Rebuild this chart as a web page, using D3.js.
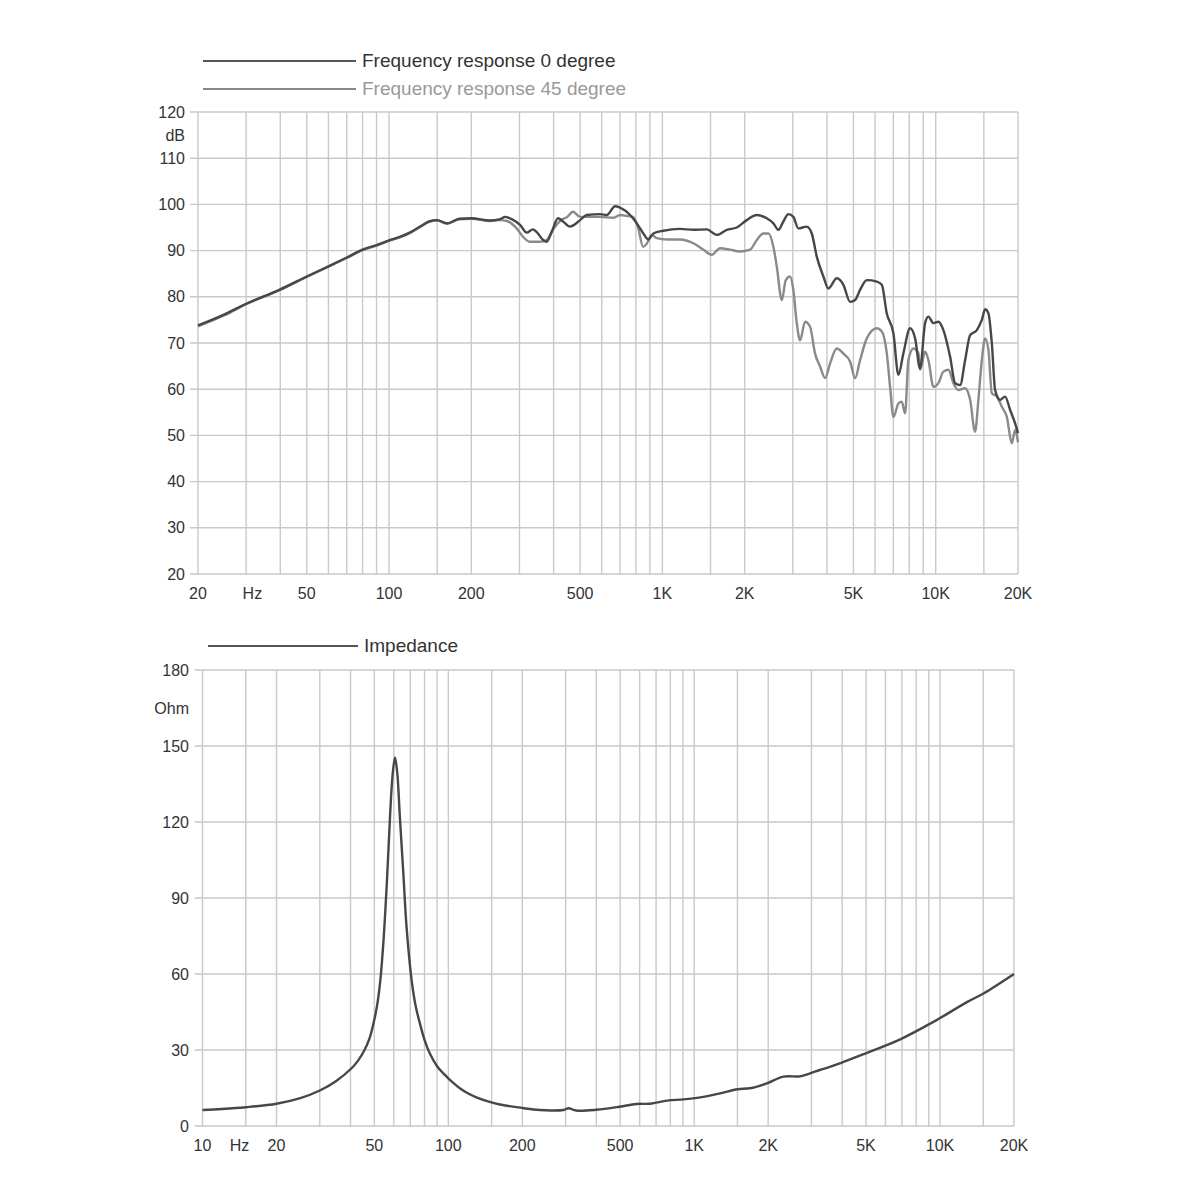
<!DOCTYPE html>
<html>
<head>
<meta charset="utf-8">
<script src="https://cdn.jsdelivr.net/npm/d3@7"></script>
<style>
  html, body { margin: 0; padding: 0; background: #fff; }
  svg { display: block; font-family: "Liberation Sans", Arial, Helvetica, sans-serif; }
</style>
</head>
<body>
<svg id="chart" width="1200" height="1200"></svg>
<script>
// ---------- DATA ----------
const fr0Freq = [20,25,30,40,50,60,70,80,90,100,110,120,130,140,150,163,181,200,234,255,266,281,302,319,336,347,366,377,394,415,433,459,500,529,592,626,671,700,762,806,852,889,927,1008,1160,1298,1453,1581,1720,1871,2036,2215,2409,2548,2657,2771,2890,3014,3144,3374,3520,3671,3882,4049,4345,4594,4861,5070,5288,5596,6087,6350,6622,7002,7304,7618,8058,8406,8767,9144,9402,9808,10229,10668,11290,11776,12282,12812,13362,14138,14748,15164,15592,16044,16496,17206,17946,18718,19520,20000];
const fr0Db = [73.8,76.2,78.5,81.6,84.4,86.6,88.5,90.2,91.2,92.2,93.0,94.0,95.2,96.3,96.6,95.9,96.9,97.0,96.5,96.8,97.3,96.8,95.5,93.9,94.6,94.0,92.3,91.9,94.1,97.0,96.3,95.2,96.6,97.7,97.9,97.7,99.6,99.3,97.7,95.9,93.7,92.4,93.7,94.3,94.7,94.5,94.6,93.4,94.5,95.0,96.6,97.7,97.0,95.9,94.5,96.3,97.9,97.3,94.8,95.2,93.7,88.7,84.4,81.8,84.0,82.6,78.9,79.3,81.5,83.6,83.3,82.6,76.4,72.1,63.1,67.8,73.2,71.0,64.5,74.3,75.7,74.3,74.6,72.8,67.0,61.3,60.9,66.3,71.7,72.8,75.0,77.3,76.4,69.9,59.8,57.7,58.4,55.5,52.6,50.5];

const fr45Freq = [20,25,30,40,50,60,70,80,90,100,110,120,130,140,150,163,181,200,234,255,270,293,309,328,357,377,398,428,447,471,500,592,660,700,741,781,815,850,876,914,954,1038,1160,1298,1413,1516,1626,1769,1923,2093,2215,2342,2443,2548,2622,2734,2828,2932,3014,3102,3190,3327,3470,3619,3774,3939,4108,4345,4594,4861,5070,5288,5596,6087,6350,6622,6808,7002,7304,7512,7727,7943,8286,8642,8767,9144,9402,9808,10229,10668,11128,11606,12107,12812,13362,13932,14326,14748,15164,15592,16044,16733,17452,18204,18988,19520,20000];
const fr45Db = [73.6,76.0,78.4,81.5,84.3,86.5,88.4,90.1,91.1,92.1,92.9,93.9,95.1,96.2,96.5,95.8,96.8,96.9,96.4,96.6,96.4,94.8,93.0,91.9,91.9,92.3,94.6,96.7,97.2,98.4,97.3,97.3,97.1,97.7,97.5,97.3,95.0,90.8,91.5,93.4,92.7,92.4,92.4,91.6,90.2,89.1,90.5,90.2,89.8,90.2,92.3,93.7,93.7,90.8,86.5,79.3,83.6,84.4,81.5,74.3,70.6,74.6,73.5,67.7,64.9,62.4,65.6,68.8,67.7,66.0,62.4,66.3,71.0,73.2,72.5,67.8,60.5,54.0,56.9,57.3,54.8,66.3,68.8,67.8,64.2,68.1,66.3,60.5,61.3,63.8,64.2,61.3,59.8,60.2,57.7,50.8,57.7,66.3,71.0,68.5,59.1,58.4,56.2,54.0,48.3,51.2,48.5];

const impFreq = [10,12,15,20,25,30,35,40.5,43,45.5,47.8,49.6,51.3,52.9,54.5,56.3,58,59.4,60.7,62,63.5,65.6,67.6,70.9,73.5,76.6,80,84,90,98.8,105,111,120,130,145,162,200,222,294,308,331,400,497,582,661,777,906,1059,1276,1502,1688,1975,2307,2697,2960,3240,3660,4990,6890,9440,12980,15090,20000];
const impOhm = [6.3,6.7,7.4,8.8,11.0,14.0,17.8,22.9,25.9,29.8,34.6,40.5,47.5,57.6,73.4,97.1,123.4,139.2,145.5,139.2,122.1,99.8,78.7,57.6,47.8,40.5,34.0,28.7,23.6,19.3,16.9,15.0,12.9,11.3,9.7,8.5,7.1,6.5,6.3,7.0,6.1,6.4,7.6,8.7,8.8,10.0,10.5,11.3,12.9,14.5,14.9,16.8,19.5,19.6,20.8,22.1,23.7,28.7,34.2,41.2,49.1,52.4,60.0];

const topGridFreq = [20,30,40,50,60,70,80,90,100,150,200,300,400,500,600,700,800,900,1000,1500,2000,3000,4000,5000,6000,7000,8000,9000,10000,15000,20000];
const topTickFreq = [20,50,100,200,500,1000,2000,5000,10000,20000];
const topTickLabels = ["20","50","100","200","500","1K","2K","5K","10K","20K"];
const topDbTicks = [20,30,40,50,60,70,80,90,100,110,120];

const botGridFreq = [10,15,20,30,40,50,60,70,80,90,100,150,200,300,400,500,600,700,800,900,1000,1500,2000,3000,4000,5000,6000,7000,8000,9000,10000,15000,20000];
const botTickFreq = [10,20,50,100,200,500,1000,2000,5000,10000,20000];
const botTickLabels = ["10","20","50","100","200","500","1K","2K","5K","10K","20K"];
const botOhmTicks = [0,30,60,90,120,150,180];

const legendTop = ["Frequency response 0 degree","Frequency response 45 degree"];
const legendBot = ["Impedance"];

// ---------- STYLE ----------
const gridColor = "#c9c9c9";
const textColor = "#333";
const c0 = "#474747";
const c45 = "#8a8a8a";
const fs = 16;

const svg = d3.select("#chart");

function panel(cfg) {
  const g = svg.append("g");
  const x = d3.scaleLog().domain(cfg.xDomain).range(cfg.xRange);
  const y = d3.scaleLinear().domain(cfg.yDomain).range(cfg.yRange);
  g.selectAll("line.vg").data(cfg.gridFreq).enter().append("line")
    .attr("x1", d => x(d)).attr("x2", d => x(d))
    .attr("y1", cfg.yRange[0]).attr("y2", cfg.yRange[1])
    .attr("stroke", gridColor).attr("stroke-width", 1.4);
  g.selectAll("line.hg").data(cfg.yTicks).enter().append("line")
    .attr("x1", cfg.xRange[0] - 8).attr("x2", cfg.xRange[1])
    .attr("y1", d => y(d)).attr("y2", d => y(d))
    .attr("stroke", gridColor).attr("stroke-width", 1.4);
  g.selectAll("text.yl").data(cfg.yTicks).enter().append("text")
    .attr("x", cfg.yLabelX).attr("y", d => y(d)).attr("dy", "0.35em")
    .attr("text-anchor", "end").attr("font-size", fs).attr("fill", textColor)
    .text(d => d);
  g.append("text").attr("x", cfg.yLabelX).attr("y", y(cfg.unitAt)).attr("dy", "0.35em")
    .attr("text-anchor", "end").attr("font-size", fs).attr("fill", textColor).text(cfg.unit);
  g.selectAll("text.xl").data(cfg.tickFreq).enter().append("text")
    .attr("x", d => x(d)).attr("y", cfg.yRange[0] + 19).attr("dy", "0.35em")
    .attr("text-anchor", "middle").attr("font-size", fs).attr("fill", textColor)
    .text((d, i) => cfg.tickLabels[i]);
  g.append("text").attr("x", x(Math.sqrt(cfg.tickFreq[0] * cfg.tickFreq[1])))
    .attr("y", cfg.yRange[0] + 19).attr("dy", "0.35em")
    .attr("text-anchor", "middle").attr("font-size", fs).attr("fill", textColor).text("Hz");
  cfg.series.forEach(s => {
    const pts = s.f.map((f, i) => [f, s.v[i]]);
    const line = d3.line().x(d => x(d[0])).y(d => y(d[1])).curve(s.curve || d3.curveMonotoneX);
    g.append("path").attr("d", line(pts)).attr("fill", "none")
      .attr("stroke", s.color).attr("stroke-width", 2.4).attr("stroke-linejoin", "round");
  });
  cfg.legend.forEach((L, i) => {
    const ly = cfg.legendY + i * 28;
    g.append("line").attr("x1", cfg.legendX1).attr("x2", cfg.legendX2)
      .attr("y1", ly).attr("y2", ly).attr("stroke", L.color).attr("stroke-width", 2);
    g.append("text").attr("x", cfg.legendX2 + 6).attr("y", ly - 1).attr("dy", "0.35em")
      .attr("font-size", 19).attr("fill", L.textColor).text(L.text);
  });
}

panel({
  xDomain: [20, 20000], xRange: [198, 1018],
  yDomain: [20, 120], yRange: [574, 112],
  gridFreq: topGridFreq, yTicks: topDbTicks, yLabelX: 185,
  unit: "dB", unitAt: 115,
  tickFreq: topTickFreq, tickLabels: topTickLabels,
  series: [
    { f: fr45Freq, v: fr45Db, color: c45 },
    { f: fr0Freq, v: fr0Db, color: c0 }
  ],
  legend: [
    { text: legendTop[0], color: "#555", textColor: "#333" },
    { text: legendTop[1], color: "#888", textColor: "#999" }
  ],
  legendY: 61, legendX1: 203, legendX2: 356
});

panel({
  xDomain: [10, 20000], xRange: [202.5, 1014],
  yDomain: [0, 180], yRange: [1126, 670],
  gridFreq: botGridFreq, yTicks: botOhmTicks, yLabelX: 189,
  unit: "Ohm", unitAt: 165,
  tickFreq: botTickFreq, tickLabels: botTickLabels,
  series: [ { f: impFreq, v: impOhm, color: c0, curve: d3.curveCatmullRom.alpha(0.5) } ],
  legend: [ { text: legendBot[0], color: "#555", textColor: "#333" } ],
  legendY: 646, legendX1: 208, legendX2: 358
});
</script>
</body>
</html>
